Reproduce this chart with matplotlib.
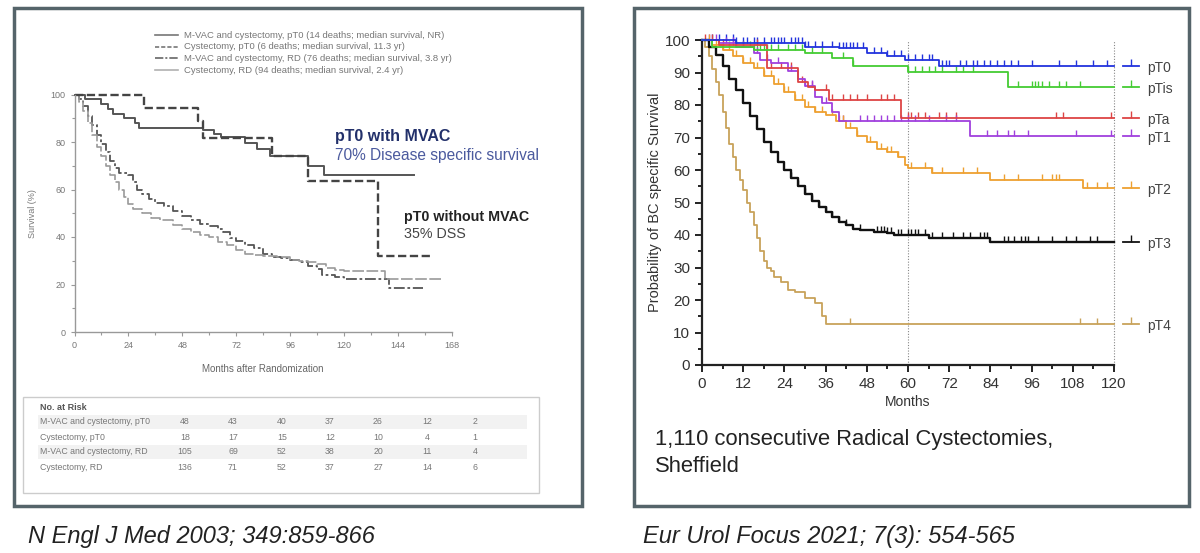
import matplotlib
matplotlib.use("Agg")
import matplotlib.pyplot as plt
from matplotlib.patches import Rectangle
from matplotlib.lines import Line2D
import numpy as np

plt.rcParams['font.family'] = ['Liberation Sans', 'DejaVu Sans']

W, H = 1200, 553


def fx(x):
    return x / W


def fy(y):
    return 1 - y / H


# ---------------- left panel data (NEJM 2003) ----------------
legend_labels = ["M-VAC and cystectomy, pT0 (14 deaths; median survival, NR)",
                 "Cystectomy, pT0 (6 deaths; median survival, 11.3 yr)",
                 "M-VAC and cystectomy, RD (76 deaths; median survival, 3.8 yr)",
                 "Cystectomy, RD (94 deaths; median survival, 2.4 yr)"]

mvac_pt0_t = [0, 4.5, 12, 15, 17, 22, 27, 28.5, 57, 62, 65, 76, 81, 87, 104, 111]
mvac_pt0_s = [100, 98, 96, 94, 92, 90, 88, 86, 85, 83.5, 82, 79.5, 77, 74, 70, 66]
mvac_pt0_end = 151

cyst_pt0_t = [0, 31, 55, 57, 88, 104, 135]
cyst_pt0_s = [100, 94.4, 88.9, 81.5, 74, 63.5, 31.8]
cyst_pt0_end = 159

mvac_rd_t = [0, 2, 4, 6, 8, 10, 12, 14, 16, 18, 20, 24, 26, 28, 30, 33, 36, 40, 44, 48,
             52, 56, 60, 64, 66, 69, 72, 76, 80, 84, 88, 92, 96, 100, 104, 108, 110, 116,
             120, 140]
mvac_rd_s = [100, 98, 95, 91, 87, 83, 79, 76, 72, 69, 67, 66, 63, 60, 58, 56, 54.5, 53,
             51, 49, 47, 45.5, 44.5, 43.5, 42, 39.5, 38.5, 36.5, 35.5, 33, 31.5, 31, 30.5,
             29.5, 28, 26.5, 24, 23, 22.3, 18.5]
mvac_rd_end = 155

cyst_rd_t = [0, 2, 4, 6, 8, 10, 12, 14, 16, 18, 20, 22, 24, 26, 30, 34, 38, 44, 48, 52,
             56, 60, 64, 68, 72, 76, 80, 84, 90, 96, 100, 104, 108, 112, 116, 120, 138]
cyst_rd_s = [100, 97, 93, 88, 83, 78, 74, 70, 66, 63, 60, 57, 54, 52, 50, 48, 47, 45,
             43.5, 42, 41, 40, 38, 36.5, 34.5, 33, 32.5, 32, 31.5, 30.5, 30, 29.5, 28.5,
             27, 26, 25.5, 22.5]
cyst_rd_end = 164

risk_title = "No. at Risk"
risk_groups = ["M-VAC and cystectomy, pT0", "Cystectomy, pT0",
               "M-VAC and cystectomy, RD", "Cystectomy, RD"]
risk_counts = [[48, 43, 40, 37, 26, 12, 2],
               [18, 17, 15, 12, 10, 4, 1],
               [105, 69, 52, 38, 20, 11, 4],
               [136, 71, 52, 37, 27, 14, 6]]

# ---------------- right panel data (Sheffield) ----------------
groups = ["pT0", "pTis", "pTa", "pT1", "pT2", "pT3", "pT4"]
colors = ["#2233dd", "#44cc33", "#dd4444", "#a040dd", "#eea030", "#111111", "#c8a25a"]

pt0_t = [0, 10, 30, 40, 48, 54, 59, 69]
pt0_s = [100, 99, 98, 97.5, 96, 95, 93.7, 92]
pt0_c = [3, 5, 7, 9, 10, 12, 13, 15, 16, 18, 20, 21, 22, 23, 24, 26, 27, 28, 29, 30, 31, 33,
         35, 38, 40, 41, 42, 43, 44, 45, 47, 50, 52, 54, 56, 58, 60, 62, 64, 66, 67, 70, 71,
         72, 75, 77, 79, 80, 82, 84, 86, 88, 90, 92, 96, 104, 109, 114, 118]

ptis_t = [0, 3, 15, 30, 38, 44, 60, 89]
ptis_s = [100, 98, 97, 96, 94.5, 92, 90.3, 85.5]
ptis_c = [8, 10, 12, 14, 15, 16, 17, 18, 19, 20, 22, 25, 27, 29, 32, 35, 41, 44, 60, 62, 64,
          66, 68, 70, 74, 76, 79, 92, 96, 97, 98, 99, 101, 104, 106, 110]

pta_t = [0, 5, 19, 28, 31, 33, 37, 58]
pta_s = [100, 98.5, 91.5, 87, 85.5, 84.5, 81.5, 76]
pta_c = [1, 3, 6, 9, 16, 20, 23, 26, 29, 32, 36, 38, 41, 43, 45, 48, 52, 54, 56, 60, 61, 63,
         65, 69, 71, 74, 103, 105, 119]

pt1_t = [0, 5, 10, 15, 17, 20, 25, 28, 30, 33, 35, 38, 40, 78]
pt1_s = [100, 99, 98, 96, 94, 93, 90.5, 88, 86, 82.5, 80.5, 78, 75, 70.5]
pt1_c = [2, 4, 7, 9, 12, 16, 19, 22, 26, 30, 32, 36, 41, 46, 48, 50, 52, 54, 56, 58, 60, 62,
         66, 71, 74, 83, 86, 89, 91, 95, 109, 119]

pt2_t = [0, 3, 6, 9, 12, 15, 18, 21, 24, 27, 30, 33, 36, 39, 42, 45, 48, 51, 54, 57, 59, 60,
         67, 84, 111]
pt2_s = [100, 98.5, 97, 95, 93, 91.5, 89, 86.5, 84, 81.5, 79.5, 78, 77, 75, 73, 70.5, 68.5,
         66.5, 65.5, 64, 61.5, 60.5, 59, 57, 54.5]
pt2_c = [2, 4, 6, 8, 10, 12, 14, 16, 18, 20, 22, 24, 25, 27, 29, 31, 33, 35, 38, 40, 41, 43,
         45, 49, 52, 54, 55, 57, 61, 65, 67, 70, 76, 80, 88, 92, 99, 102, 103, 104, 112, 115,
         118]

pt3_t = [0, 2, 4, 6, 8, 10, 12, 14, 16, 18, 20, 22, 24, 26, 28, 30, 32, 34, 36, 38, 40, 42,
         44, 46, 50, 54, 56, 66, 84]
pt3_s = [100, 98, 95.5, 92, 88, 84.5, 80.5, 76.5, 72.5, 68.5, 65.5, 62.5, 60, 57.5, 55, 52.5,
         50.5, 48.5, 47, 45.5, 44, 43, 42, 41.5, 41, 40.5, 40, 39, 37.8]
pt3_c = [26, 28, 30, 32, 34, 36, 38, 40, 42, 46, 51, 52, 53, 54, 55, 57, 58, 60, 61, 62, 63,
         65, 67, 70, 73, 76, 78, 81, 82, 83, 88, 89, 91, 93, 94, 95, 98, 102, 106, 109, 113,
         115]

pt4_t = [0, 1, 2, 3, 4, 5, 6, 7, 8, 9, 10, 11, 12, 13, 14, 15, 16, 17, 18, 19, 20, 21, 23,
         25, 27, 30, 33, 35, 36]
pt4_s = [100, 98, 95, 91, 87, 83, 78, 73, 68, 64, 60, 57, 54, 50, 47, 43, 39, 35, 32, 30, 29,
         27, 25.5, 23, 22.5, 20.5, 19, 15, 12.5]
pt4_c = [43, 110, 115]

curves_t = [pt0_t, ptis_t, pta_t, pt1_t, pt2_t, pt3_t, pt4_t]
curves_s = [pt0_s, ptis_s, pta_s, pt1_s, pt2_s, pt3_s, pt4_s]
curves_c = [pt0_c, ptis_c, pta_c, pt1_c, pt2_c, pt3_c, pt4_c]
right_end = 120


def surv_at(t, s, x):
    idx = np.searchsorted(np.array(t), np.array(x), side='right') - 1
    return np.array(s)[idx]


fig = plt.figure(figsize=(12, 5.53), dpi=100)
fig.patch.set_facecolor('white')

# panel frames
border = '#55646a'
for (x0, y0, x1, y1) in [(14, 8, 582, 506), (634, 8, 1189, 506)]:
    fig.patches.append(Rectangle((fx(x0), fy(y1)), fx(x1) - fx(x0), fy(y0) - fy(y1),
                                 transform=fig.transFigure, fill=False,
                                 edgecolor=border, lw=2.5))

# ---------------- left axes ----------------
axl = fig.add_axes([fx(74.5), fy(332), fx(452) - fx(74.5), fy(94.5) - fy(332)])
axl.set_xlim(0, 168)
axl.set_ylim(0, 100)
gray = '#777777'
for sp in ['top', 'right']:
    axl.spines[sp].set_visible(False)
for sp in ['left', 'bottom']:
    axl.spines[sp].set_color('#999999')
    axl.spines[sp].set_linewidth(1.0)
axl.set_xticks(np.arange(0, 169, 24))
axl.set_xticks(np.arange(12, 168, 24), minor=True)
axl.set_yticks(np.arange(0, 101, 20))
axl.set_yticks(np.arange(10, 100, 20), minor=True)
axl.tick_params(which='both', colors='#999999', labelcolor=gray, labelsize=6.5,
                length=3, width=0.8)
axl.tick_params(which='minor', length=2)
axl.set_ylabel("Survival (%)", fontsize=6.5, color=gray, labelpad=10)
axl.set_xlabel("Months after Randomization", fontsize=7, color='#666666', labelpad=10)

axl.step(mvac_rd_t + [mvac_rd_end], mvac_rd_s + [mvac_rd_s[-1]], where='post',
         color='#555555', lw=1.3, ls=(0, (6, 1.5, 1.5, 1.5)), clip_on=False)
axl.step(cyst_rd_t + [cyst_rd_end], cyst_rd_s + [cyst_rd_s[-1]], where='post',
         color='#9a9a9a', lw=1.2, ls=(0, (7, 1.5)), clip_on=False)
axl.step(mvac_pt0_t + [mvac_pt0_end], mvac_pt0_s + [mvac_pt0_s[-1]], where='post',
         color='#555555', lw=1.4, clip_on=False)
axl.step(cyst_pt0_t + [cyst_pt0_end], cyst_pt0_s + [cyst_pt0_s[-1]], where='post',
         color='#444444', lw=1.7, ls=(0, (3.5, 1.5)), clip_on=False)

axl.text(116, 82.5, "pT0 with MVAC", fontsize=11.5, fontweight='bold', color='#22306a',
         va='center', clip_on=False)
axl.text(116, 74.2, "70% Disease specific survival", fontsize=11.2, color='#4b5a9e',
         va='center', clip_on=False)
axl.text(146.5, 48.5, "pT0 without MVAC", fontsize=10.3, fontweight='bold', color='#222222',
         va='center', clip_on=False)
axl.text(146.5, 41.1, "35% DSS", fontsize=10.3, color='#444444', va='center', clip_on=False)

# legend on top
leg_styles = [dict(color='#777777', lw=1.2),
              dict(color='#777777', lw=1.2, ls=(0, (2.5, 1.2))),
              dict(color='#666666', lw=1.2, ls=(0, (5, 1.2, 1.2, 1.2))),
              dict(color='#b0b0b0', lw=1.2)]
for i, lab in enumerate(legend_labels):
    yy = 35 + i * 11.7
    fig.lines.append(Line2D([fx(155), fx(178)], [fy(yy), fy(yy)],
                            transform=fig.transFigure, **leg_styles[i]))
    fig.text(fx(184), fy(yy), lab, fontsize=6.8, color='#777777', va='center')

# risk table
fig.patches.append(Rectangle((fx(23), fy(493)), fx(539) - fx(23), fy(397) - fy(493),
                             transform=fig.transFigure, fill=False,
                             edgecolor='#cccccc', lw=1.0))
fig.text(fx(40), fy(408), risk_title, fontsize=6.5, fontweight='bold', color='#555555',
         va='center')
col_x = [185, 233, 282, 330, 378, 427, 475]
row_y = [422, 437, 452, 467]
for i, grp in enumerate(risk_groups):
    if i % 2 == 0:
        fig.patches.append(Rectangle((fx(38), fy(row_y[i] + 7)), fx(527) - fx(38),
                                     fy(row_y[i] - 7) - fy(row_y[i] + 7),
                                     transform=fig.transFigure, facecolor='#f2f2f2',
                                     edgecolor='none', zorder=0))
    fig.text(fx(40), fy(row_y[i]), grp, fontsize=6.3, color='#777777', va='center')
    for j, v in enumerate(risk_counts[i]):
        fig.text(fx(col_x[j]), fy(row_y[i]), str(v), fontsize=6.3, color='#777777',
                 va='center', ha='center')

fig.text(fx(28), fy(537), "N Engl J Med 2003; 349:859-866", fontsize=17,
         style='italic', color='#222222', va='center')

# ---------------- right axes ----------------
axr = fig.add_axes([fx(702), fy(365), fx(1114) - fx(702), fy(40) - fy(365)])
axr.set_xlim(0, 120)
axr.set_ylim(0, 100)
for sp in ['top', 'right']:
    axr.spines[sp].set_visible(False)
for sp in ['left', 'bottom']:
    axr.spines[sp].set_color('#222222')
    axr.spines[sp].set_linewidth(1.6)
axr.set_xticks(np.arange(0, 121, 12))
axr.set_xticks(np.arange(6, 120, 12), minor=True)
axr.set_yticks(np.arange(0, 101, 10))
axr.set_yticks(np.arange(5, 100, 10), minor=True)
axr.tick_params(which='major', length=5, width=1.4, colors='#222222', labelsize=11,
                labelcolor='#333333')
axr.tick_params(which='minor', length=3, width=1.4, colors='#222222')
axr.set_ylabel("Probability of BC specific Survival", fontsize=10.5, color='#333333',
               labelpad=2)
axr.set_xlabel("Months", fontsize=10, color='#333333', labelpad=3)
for xv in [60, 120]:
    axr.axvline(xv, color='#888888', lw=0.8, ls=(0, (1, 1.5)), zorder=0, clip_on=False)

for k in range(len(groups)):
    t = curves_t[k]
    s = curves_s[k]
    col = colors[k]
    lw = 1.7 if groups[k] == "pT3" else 1.3
    axr.step(t + [right_end], s + [s[-1]], where='post', color=col, lw=lw,
             clip_on=False, zorder=3 + (7 - k) * 0.1)
    cens = curves_c[k]
    axr.plot(cens, surv_at(t, s, cens), ls='none', marker=2, ms=4.5, mew=1.0,
             color=col, clip_on=False, zorder=3)
    ye = s[-1]
    axr.plot([122.6, 127.3], [ye, ye], color=col, lw=1.3, clip_on=False)
    axr.plot([125], [ye], ls='none', marker=2, ms=5, mew=1.0, color=col, clip_on=False)
    axr.text(129.6, ye - 0.6, groups[k], fontsize=10, color='#444444', va='center',
             clip_on=False)

fig.text(fx(655), fy(440), "1,110 consecutive Radical Cystectomies,", fontsize=15.8,
         color='#222222', va='center')
fig.text(fx(655), fy(466), "Sheffield", fontsize=15.8, color='#222222', va='center')
fig.text(fx(643), fy(537), "Eur Urol Focus 2021; 7(3): 554-565", fontsize=17,
         style='italic', color='#222222', va='center')

fig.savefig("out.png", dpi=100, facecolor='white')
